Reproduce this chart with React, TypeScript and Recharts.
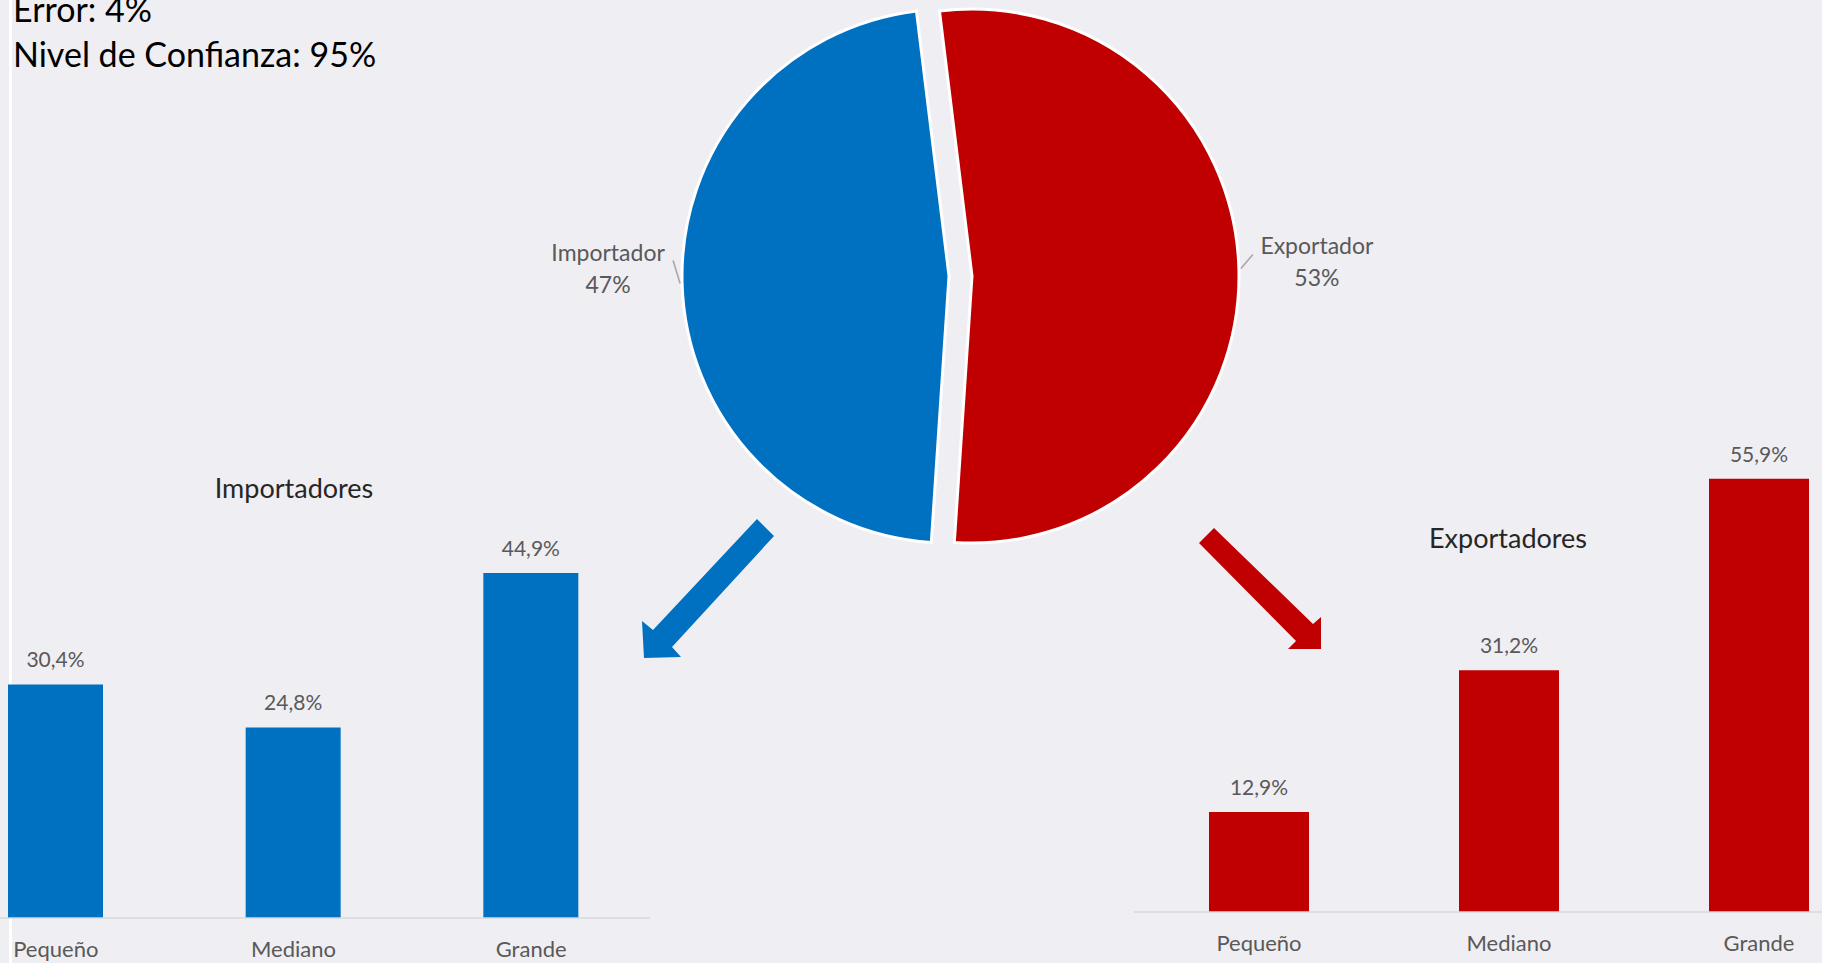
import { PieChart, Pie, Cell, BarChart, Bar, XAxis, YAxis, LabelList } from 'recharts'

const pieNames = ['Importador', 'Exportador']
const pieShares = [47, 53]

const sizeLabels = ['Pequeño', 'Mediano', 'Grande']
const importerShares = [30.4, 24.8, 44.9]
const exporterShares = [12.9, 31.2, 55.9]

const BLUE = '#0070C0'
const RED = '#C00000'
const BG = '#EFEEF3'
const GRAY = '#595959'
const FONT = 'Lato, "Open Sans", sans-serif'
const RAD = Math.PI / 180

const pieData = pieNames.map((name, i) => ({ name, value: pieShares[i] }))
const importData = sizeLabels.map((size, i) => ({ size, value: importerShares[i] }))
const exportData = sizeLabels.map((size, i) => ({ size, value: exporterShares[i] }))

const pct = (v: number) => `${v.toFixed(1).replace('.', ',')}%`

// each pie draws only one slice, the other one is shifted so the slices look pulled apart
const pieLabel = (visible: number) => (props: any) => {
  const { cx, cy, midAngle, outerRadius, index, name, percent } = props
  if (index !== visible) return null
  const sx = cx + (outerRadius + 2) * Math.cos(-midAngle * RAD)
  const sy = cy + (outerRadius + 2) * Math.sin(-midAngle * RAD)
  const left = sx < cx
  const ex = left ? sx - 7 : sx + 12
  const ey = left ? sy - 23 : sy - 14
  const tx = left ? ex - 65 : ex + 64
  return (
    <g>
      <line x1={sx} y1={sy} x2={ex} y2={ey} stroke="#A6A6A6" strokeWidth={1.5} />
      <text x={tx} y={ey - 9} textAnchor="middle" dominantBaseline="central" fill={GRAY} fontSize={23} fontFamily={FONT}>
        {name}
      </text>
      <text x={tx} y={ey + 23} textAnchor="middle" dominantBaseline="central" fill={GRAY} fontSize={23} fontFamily={FONT}>
        {`${Math.round(percent * 100)}%`}
      </text>
    </g>
  )
}

function SizeBars({ data, color, width, height, barSize }: { data: any[]; color: string; width: number; height: number; barSize: number }) {
  return (
    <BarChart width={width} height={height} data={data} margin={{ top: 40, right: 0, bottom: 0, left: 0 }}>
      <XAxis
        dataKey="size"
        height={45}
        interval={0}
        tickSize={0}
        tickMargin={23}
        tickLine={false}
        axisLine={{ stroke: '#D9D9D9', strokeWidth: 1.5 }}
        tick={{ fill: GRAY, fontSize: 22, fontFamily: FONT }}
      />
      <YAxis hide domain={[0, 60]} />
      <Bar dataKey="value" fill={color} barSize={barSize} isAnimationActive={false}>
        <LabelList dataKey="value" position="top" offset={17} formatter={(v: any) => pct(Number(v))} fill={GRAY} fontSize={21} fontFamily={FONT} />
      </Bar>
    </BarChart>
  )
}

export default function App() {
  return (
    <div style={{ position: 'relative', width: 1822, height: 963, overflow: 'hidden', background: BG, fontFamily: FONT }}>
      <style>{'body{margin:0}'}</style>
      <div style={{ position: 'absolute', left: 9, top: 0, width: 3, height: 963, background: '#fff' }} />

      <div style={{ position: 'absolute', left: 460, top: 0 }}>
        <PieChart width={1000} height={580}>
          <Pie
            data={pieData}
            dataKey="value"
            nameKey="name"
            cx={484}
            cy={271}
            outerRadius={267}
            startAngle={97}
            endAngle={457}
            stroke="#fff"
            strokeWidth={3}
            labelLine={false}
            label={pieLabel(0)}
            isAnimationActive={false}
          >
            <Cell fill={BLUE} />
            <Cell fill="transparent" stroke="none" />
          </Pie>
          <Pie
            data={pieData}
            dataKey="value"
            nameKey="name"
            cx={507}
            cy={271}
            outerRadius={267}
            startAngle={97}
            endAngle={457}
            stroke="#fff"
            strokeWidth={3}
            labelLine={false}
            label={pieLabel(1)}
            isAnimationActive={false}
          >
            <Cell fill="transparent" stroke="none" />
            <Cell fill={RED} />
          </Pie>
        </PieChart>
      </div>

      <div style={{ position: 'absolute', left: -63, top: 417 }}>
        <SizeBars data={importData} color={BLUE} width={713} height={546} barSize={95} />
      </div>
      <div style={{ position: 'absolute', left: 1134, top: 407 }}>
        <SizeBars data={exportData} color={RED} width={750} height={550} barSize={100} />
      </div>

      <svg width={1822} height={963} style={{ position: 'absolute', left: 0, top: 0, pointerEvents: 'none' }}>
        <text x={13} y={22} fontSize={34} fontFamily={FONT} fill="#000">Error: 4%</text>
        <text x={13} y={67} fontSize={34} fontFamily={FONT} fill="#000">Nivel de Confianza: 95%</text>
        <text x={294} y={498} textAnchor="middle" fontSize={27} fontFamily={FONT} fill="#262626">Importadores</text>
        <text x={1508} y={548} textAnchor="middle" fontSize={27} fontFamily={FONT} fill="#262626">Exportadores</text>
        <polygon points="757,519 774,536 672,647 681,657 644,658 642,621 653,630" fill={BLUE} />
        <polygon points="1214,528 1313,624 1321,617 1321,649 1288,649 1296,641 1199,543" fill={RED} />
      </svg>
    </div>
  )
}
